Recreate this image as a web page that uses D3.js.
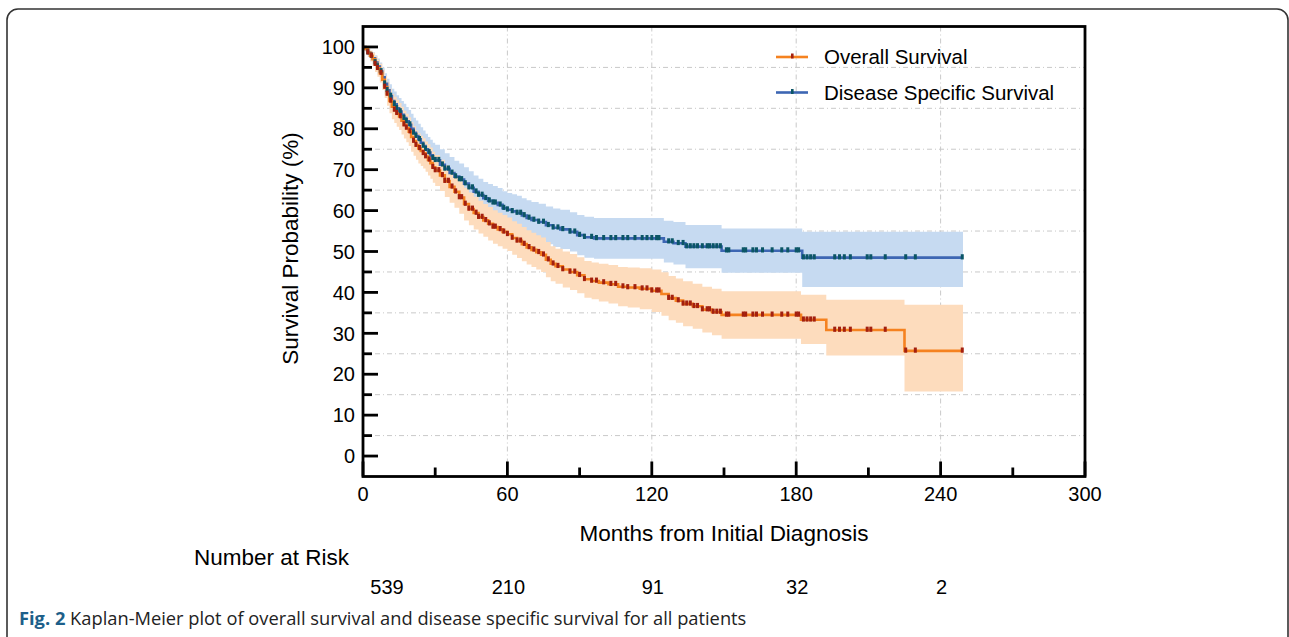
<!DOCTYPE html>
<html>
<head>
<meta charset="utf-8">
<script src="https://cdn.jsdelivr.net/npm/d3@7"></script>
<style>
  body { margin: 0; background: #fff; }
  svg { display: block; }
</style>
</head>
<body>
<div id="chart"></div>
<script>
// Kaplan-Meier: overall survival (OS) vs disease specific survival (DSS)
// values, months -> survival %
const osTimes = [0, 1, 2, 3, 4, 5, 6, 7, 8, 9, 10, 11, 12, 13, 14, 15, 16, 17, 18, 19, 20, 21, 22, 23, 24, 25, 26, 27, 28, 29, 30, 32, 34, 36, 38, 40, 42, 44, 46, 48, 50, 52, 54, 56, 58, 60, 62, 64, 66, 68, 70, 72, 74, 76, 78, 80, 83, 86, 89, 92, 95, 98, 102, 106, 110, 115, 120, 124, 127, 130, 133, 137, 141, 145, 149, 182, 192.5, 225];
const osSurv = [100, 99.5, 98.6, 97.8, 97, 95.8, 94.8, 93.6, 92, 90.2, 88.5, 86.8, 85.4, 84.6, 83.8, 83, 82, 81, 80.2, 79.3, 78, 77, 76, 75.2, 74.6, 74, 73.2, 72.4, 71.6, 70.6, 69.8, 68.6, 67.2, 65.8, 64.6, 63.2, 61.6, 60.4, 59.4, 58.4, 57.6, 56.8, 56, 55.4, 54.8, 54.2, 53.3, 52.6, 51.8, 51, 50.4, 49.8, 49.2, 48, 47, 46.4, 45.6, 45, 44.2, 43.2, 42.8, 42.4, 42, 41.4, 41.2, 40.9, 40.4, 39.6, 38.6, 38, 37.2, 36.6, 35.8, 35.2, 34.5, 33.3, 30.8, 25.7];
const osLower = [100, 98.9, 97.6, 96.5, 95.4, 93.9, 92.7, 91.3, 89.5, 87.5, 85.6, 83.8, 82.3, 81.4, 80.5, 79.7, 78.6, 77.6, 76.7, 75.8, 74.4, 73.4, 72.4, 71.5, 70.9, 70.3, 69.5, 68.6, 67.8, 66.8, 66, 64.8, 63.3, 61.9, 60.7, 59.2, 57.6, 56.4, 55.4, 54.4, 53.6, 52.7, 51.9, 51.3, 50.7, 50.1, 49.2, 48.4, 47.6, 46.8, 46.2, 45.6, 45, 43.7, 42.7, 42.1, 41.2, 40.6, 39.8, 38.7, 38.3, 37.8, 37.3, 36.6, 36.3, 35.9, 35.2, 34.3, 33.2, 32.6, 31.7, 31.1, 30.2, 29.5, 28.7, 27.4, 24.6, 15.8];
const osUpper = [100, 100, 99.6, 99.1, 98.6, 97.7, 96.9, 95.9, 94.5, 92.9, 91.4, 89.8, 88.5, 87.8, 87.1, 86.3, 85.4, 84.4, 83.7, 82.8, 81.6, 80.6, 79.6, 78.9, 78.3, 77.7, 76.9, 76.2, 75.4, 74.4, 73.6, 72.4, 71.1, 69.7, 68.5, 67.2, 65.6, 64.4, 63.4, 62.4, 61.6, 60.9, 60.1, 59.5, 58.9, 58.3, 57.4, 56.8, 56, 55.2, 54.6, 54, 53.4, 52.3, 51.3, 50.7, 50, 49.4, 48.6, 47.7, 47.3, 47, 46.7, 46.2, 46.1, 45.9, 45.6, 44.9, 44, 43.4, 42.7, 42.1, 41.4, 40.9, 40.3, 39.4, 38.2, 37];

const dssTimes = [0, 1, 2, 3, 4, 5, 6, 7, 8, 9, 10, 11, 12, 13, 14, 15, 16, 17, 18, 19, 20, 21, 22, 23, 24, 25, 26, 27, 28, 29, 30, 32, 34, 36, 38, 40, 42, 44, 46, 48, 50, 52, 54, 56, 58, 60, 62, 64, 66, 68, 70, 73, 76, 79, 82, 86, 89, 92, 96, 125, 129, 134, 149, 182.5];
const dssSurv = [100, 99.5, 98.6, 97.8, 97.2, 96.2, 95.2, 94, 92.6, 91, 89.4, 88, 86.8, 86, 85, 84.2, 83.4, 82.6, 81.8, 81, 80, 79, 78.2, 77.4, 76.6, 75.8, 75, 74.2, 73.5, 72.8, 72.3, 71.2, 70.2, 69.2, 68.3, 67.6, 66.6, 65.6, 64.6, 63.8, 63, 62.4, 61.9, 61.4, 60.6, 60.2, 59.8, 59.4, 58.8, 58.2, 57.7, 57.2, 56.4, 55.8, 55.4, 54.8, 54, 53.5, 53.2, 52.4, 52, 51.2, 50.2, 48.5];
const dssLower = [100, 98.9, 97.6, 96.5, 95.7, 94.4, 93.2, 91.8, 90.2, 88.4, 86.6, 85.1, 83.8, 82.9, 81.8, 80.9, 80, 79.1, 78.3, 77.4, 76.3, 75.3, 74.4, 73.6, 72.8, 72, 71.2, 70.4, 69.7, 69, 68.5, 67.4, 66.4, 65.3, 64.4, 63.7, 62.6, 61.6, 60.6, 59.8, 59, 58.3, 57.8, 57.3, 56.5, 56.1, 55.6, 55.2, 54.6, 53.9, 53.3, 52.7, 51.8, 51.1, 50.6, 50, 49.1, 48.5, 48.2, 47.3, 46.8, 45.9, 44.8, 41.3];
const dssUpper = [100, 100, 99.6, 99.1, 98.7, 98, 97.2, 96.2, 95, 93.6, 92.2, 90.9, 89.8, 89.1, 88.2, 87.5, 86.8, 86.1, 85.3, 84.6, 83.7, 82.7, 82, 81.2, 80.4, 79.6, 78.8, 78, 77.3, 76.6, 76.1, 75, 74, 73.1, 72.2, 71.5, 70.6, 69.6, 68.6, 67.8, 67, 66.5, 66, 65.5, 64.7, 64.3, 64, 63.6, 63, 62.5, 62.1, 61.7, 61, 60.5, 60.2, 59.6, 58.9, 58.5, 58.2, 57.5, 57.2, 56.5, 55.6, 54.8];

const followEnd = 249.3;

// censored observations (months), drawn on both curves
const censorTimes = [2, 3.5, 5, 6, 7.5, 9, 10, 11.5, 13, 14, 15.5, 17, 18, 19.5, 21, 22, 23.5, 25, 26, 27.5, 29, 30, 31.5, 33, 34, 35.5, 37, 38.5, 40, 41, 42.5, 44, 45.5, 47, 48, 49.5, 51, 52.5, 54, 55, 57, 58.5, 60, 62, 64, 65.5, 67, 69, 71, 73, 75, 77, 79, 81, 83, 86, 88, 90, 92, 95, 97, 100, 103, 105, 108, 110, 113, 116, 118, 120, 122, 123, 127, 128.5, 131, 133, 134.5, 136, 137.5, 139, 141, 143, 144, 145.5, 147, 148.5, 151, 152, 158, 159, 162, 163.5, 166, 170, 174, 176.5, 180, 181, 183, 184.5, 186, 187.5, 196, 198, 200, 202.5, 209.5, 211, 217, 225.5, 229.5, 249];

const riskTimes = [0, 60, 120, 180, 240];
const riskCounts = [539, 210, 91, 32, 2];

const xTicks = [0, 60, 120, 180, 240, 300];
const yTicks = [0, 10, 20, 30, 40, 50, 60, 70, 80, 90, 100];

const seriesNames = ['Overall Survival', 'Disease Specific Survival'];

const CONFIG = {
    width: 1289,
    height: 637,
    plot: { left: 363, right: 1085, top: 26.5, bottom: 476.5 },
    font: '"Liberation Sans", Arial, Helvetica, sans-serif',
    os: { line: '#f58220', band: '#fddcbd', mark: '#a3200f' },
    dss: { line: '#3d66b3', band: '#c6daf1', mark: '#0b5566' },
    grid: '#c9c9c9'
};

function build_points(times, surv, lower, upper) {
    const pts = times.map((t, i) => ({ t: t, s: surv[i], lo: lower[i], hi: upper[i] }));
    const last = pts[pts.length - 1];
    pts.push({ t: followEnd, s: last.s, lo: last.lo, hi: last.hi });
    return pts;
}

function surv_at(times, surv, t) {
    const i = d3.bisectRight(times, t) - 1;
    return surv[Math.max(0, i)];
}

function draw_main() {
    const svg = d3.select('#chart').append('svg')
        .attr('width', CONFIG.width)
        .attr('height', CONFIG.height);

    // rounded frame of the figure
    svg.append('rect')
        .attr('x', 7).attr('y', 9)
        .attr('width', 1281).attr('height', 700)
        .attr('rx', 11)
        .attr('fill', 'none')
        .attr('stroke', '#333')
        .attr('stroke-width', 1.6);

    const P = CONFIG.plot;
    const x = d3.scaleLinear().domain([0, 300]).range([P.left, P.right]);
    const y = d3.scaleLinear().domain([-5, 105]).range([P.bottom, P.top]);

    // grid: vertical at major x ticks, horizontal at the minor y ticks
    const grid = svg.append('g')
        .attr('stroke', CONFIG.grid)
        .attr('stroke-width', 1)
        .attr('stroke-dasharray', '5,3,1,3');
    grid.selectAll('.vgrid')
        .data(xTicks.filter((d) => d > 0 && d < 300))
        .enter().append('line')
        .attr('x1', (d) => x(d)).attr('x2', (d) => x(d))
        .attr('y1', P.top).attr('y2', P.bottom);
    grid.selectAll('.hgrid')
        .data(d3.range(5, 100, 10))
        .enter().append('line')
        .attr('x1', P.left).attr('x2', P.right)
        .attr('y1', (d) => y(d)).attr('y2', (d) => y(d));

    const os = build_points(osTimes, osSurv, osLower, osUpper);
    const dss = build_points(dssTimes, dssSurv, dssLower, dssUpper);

    const band = d3.area()
        .curve(d3.curveStepAfter)
        .x((d) => x(d.t))
        .y0((d) => y(d.lo))
        .y1((d) => y(d.hi));
    const line = d3.line()
        .curve(d3.curveStepAfter)
        .x((d) => x(d.t))
        .y((d) => y(d.s));

    svg.append('path').datum(dss).attr('d', band).attr('fill', CONFIG.dss.band);
    svg.append('path').datum(os).attr('d', band).attr('fill', CONFIG.os.band);

    svg.append('path').datum(dss).attr('d', line)
        .attr('fill', 'none').attr('stroke', CONFIG.dss.line).attr('stroke-width', 2.6);
    svg.append('path').datum(os).attr('d', line)
        .attr('fill', 'none').attr('stroke', CONFIG.os.line).attr('stroke-width', 2.6);

    // censor marks
    const marks = [
        { times: dssTimes, surv: dssSurv, color: CONFIG.dss.mark },
        { times: osTimes, surv: osSurv, color: CONFIG.os.mark }
    ];
    marks.forEach((m) => {
        svg.append('g').selectAll('rect')
            .data(censorTimes)
            .enter().append('rect')
            .attr('x', (d) => x(d) - 1.5)
            .attr('y', (d) => y(surv_at(m.times, m.surv, d)) - 3.4)
            .attr('width', 3)
            .attr('height', 5.2)
            .attr('fill', m.color);
    });

    // frame of the plot
    svg.append('rect')
        .attr('x', P.left).attr('y', P.top)
        .attr('width', P.right - P.left).attr('height', P.bottom - P.top)
        .attr('fill', 'none')
        .attr('stroke', '#000')
        .attr('stroke-width', 2.8);

    // y ticks (major + minor, pointing inwards)
    svg.append('g').selectAll('line')
        .data(d3.range(0, 101, 5))
        .enter().append('line')
        .attr('x1', P.left)
        .attr('x2', (d) => P.left + (d % 10 === 0 ? 15 : 9))
        .attr('y1', (d) => y(d)).attr('y2', (d) => y(d))
        .attr('stroke', '#000').attr('stroke-width', 2.8);
    svg.append('g').selectAll('text')
        .data(yTicks)
        .enter().append('text')
        .text((d) => d)
        .attr('x', P.left - 8)
        .attr('y', (d) => y(d))
        .attr('dy', '0.36em')
        .attr('text-anchor', 'end')
        .attr('font-family', CONFIG.font)
        .attr('font-size', 20)
        .attr('fill', '#000');

    // x ticks
    svg.append('g').selectAll('line')
        .data(d3.range(0, 301, 30))
        .enter().append('line')
        .attr('x1', (d) => x(d)).attr('x2', (d) => x(d))
        .attr('y1', P.bottom)
        .attr('y2', (d) => P.bottom - (d % 60 === 0 ? 15 : 9))
        .attr('stroke', '#000').attr('stroke-width', 2.8);
    svg.append('g').selectAll('text')
        .data(xTicks)
        .enter().append('text')
        .text((d) => d)
        .attr('x', (d) => x(d))
        .attr('y', P.bottom + 24)
        .attr('text-anchor', 'middle')
        .attr('font-family', CONFIG.font)
        .attr('font-size', 20)
        .attr('fill', '#000');

    // axis titles
    svg.append('text')
        .text('Survival Probability (%)')
        .attr('transform', `translate(298,${(y(0) + y(100)) / 2 - 3}) rotate(-90)`)
        .attr('text-anchor', 'middle')
        .attr('font-family', CONFIG.font)
        .attr('font-size', 22.5)
        .attr('fill', '#000');
    svg.append('text')
        .text('Months from Initial Diagnosis')
        .attr('x', (P.left + P.right) / 2)
        .attr('y', 541)
        .attr('text-anchor', 'middle')
        .attr('font-family', CONFIG.font)
        .attr('font-size', 22.5)
        .attr('fill', '#000');

    // legend
    const legend = svg.append('g');
    [CONFIG.os, CONFIG.dss].forEach((c, i) => {
        const ly = 57 + i * 35.5;
        legend.append('line')
            .attr('x1', 776).attr('x2', 808)
            .attr('y1', ly).attr('y2', ly)
            .attr('stroke', c.line).attr('stroke-width', 2.6);
        legend.append('rect')
            .attr('x', 791).attr('y', ly - 3.5)
            .attr('width', 2.6).attr('height', 5)
            .attr('fill', c.mark);
        legend.append('text')
            .text(seriesNames[i])
            .attr('x', 824).attr('y', ly)
            .attr('dy', '0.36em')
            .attr('font-family', CONFIG.font)
            .attr('font-size', 20.5)
            .attr('fill', '#000');
    });

    // number at risk
    svg.append('text')
        .text('Number at Risk')
        .attr('x', 194).attr('y', 565)
        .attr('font-family', CONFIG.font)
        .attr('font-size', 22.5)
        .attr('fill', '#000');
    svg.append('g').selectAll('text')
        .data(riskTimes)
        .enter().append('text')
        .text((d, i) => riskCounts[i])
        .attr('x', (d, i) => (i === 0 ? x(d) + 24 : x(d) + 1))
        .attr('y', 594)
        .attr('text-anchor', 'middle')
        .attr('font-family', CONFIG.font)
        .attr('font-size', 20)
        .attr('fill', '#000');

    // caption
    const cap = svg.append('text')
        .attr('x', 19).attr('y', 625)
        .attr('font-family', '"Open Sans", "Noto Sans", sans-serif')
        .attr('font-size', 18.3)
        .attr('fill', '#222');
    cap.append('tspan').text('Fig. 2').attr('font-weight', 'bold').attr('fill', '#1d5f8a');
    cap.append('tspan').text(' Kaplan-Meier plot of overall survival and disease specific survival for all patients');
}

draw_main();
</script>
</body>
</html>
